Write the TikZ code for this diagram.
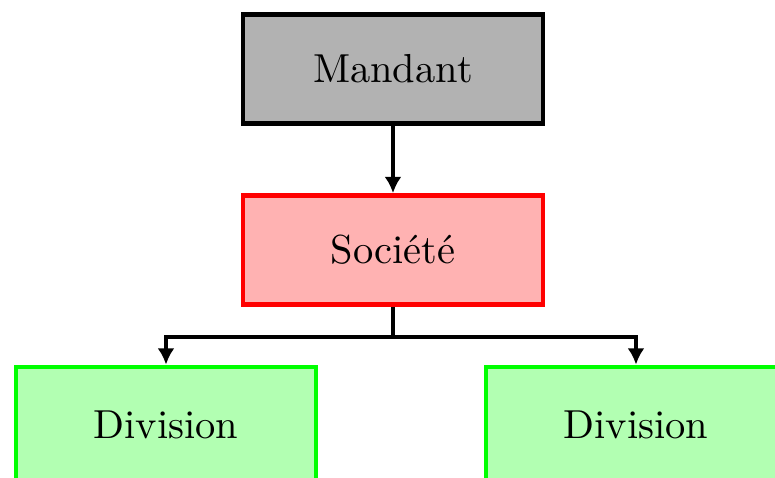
\documentclass[tikz,border=0pt]{standalone}
\usetikzlibrary{arrows.meta}
\begin{document}
\begin{tikzpicture}[x=0.247pt,y=-0.247pt,
  box/.style={draw,line width=1.2pt,minimum width=300*0.247pt,minimum height=109*0.247pt,inner sep=0pt},
  top/.style={box,draw=black,fill=black!30},
  mid/.style={box,draw=red,fill=red!30},
  leaf/.style={box,draw=green,fill=green!30,minimum height=116*0.247pt},
  arr/.style={line width=0.8pt,-{Latex[length=4pt,width=4.2pt]}}]
\useasboundingbox (0,0) rectangle (775,478);
\node[top] (m) at (393,69) {Mandant};
\node[mid] (s) at (393,250) {Société};
\node[leaf] (d1) at (166,425) {Division};
\node[leaf] (d2) at (636,425) {Division};
\draw[arr] (m.south) -- (s.north);
\draw[line width=0.8pt] (s.south) -- ++(0,30) coordinate (b);
\draw[arr] (b) -| (d1.north);
\draw[arr] (b) -| (d2.north);
\end{tikzpicture}
\end{document}
